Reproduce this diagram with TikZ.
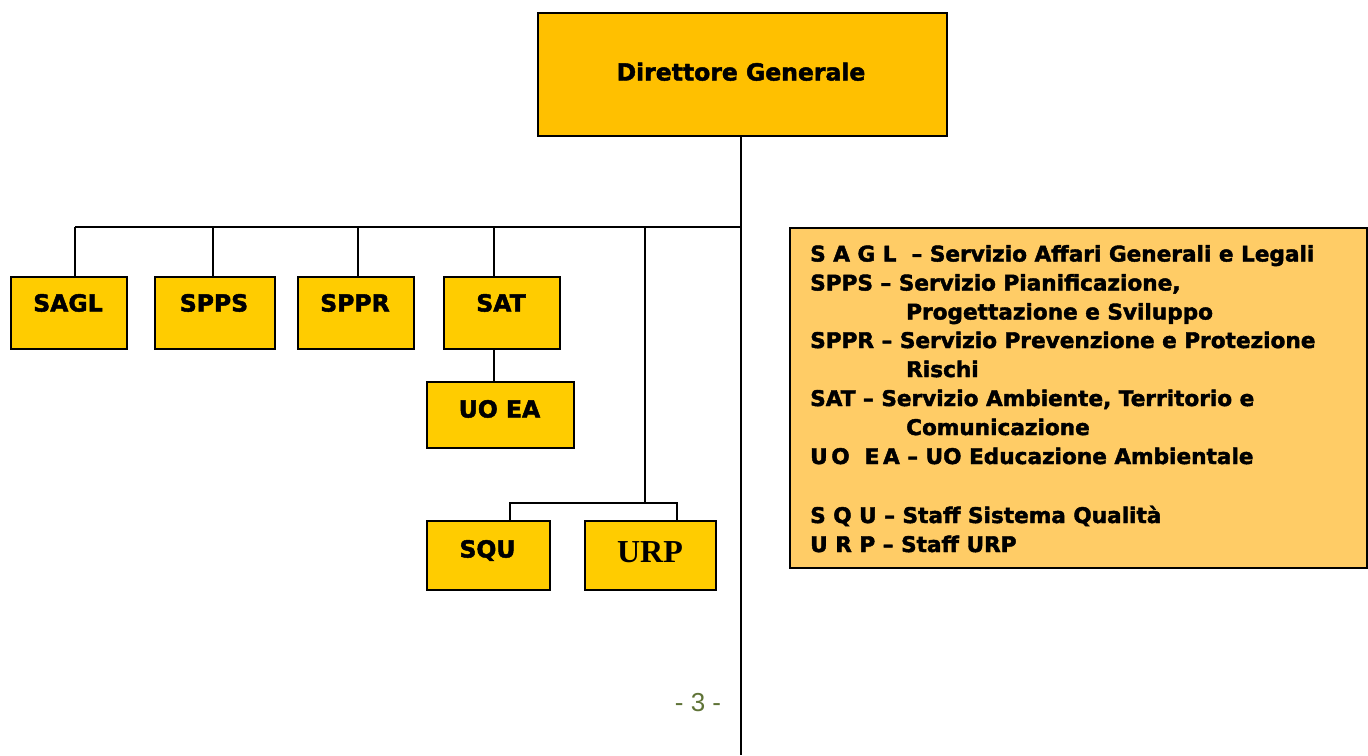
\documentclass[tikz,border=0pt]{standalone}
\usepackage{fontspec}
\setmainfont{DejaVu Sans}[BoldFeatures={FakeBold=2}]
\newfontfamily\serifbold{Liberation Serif}
\newfontfamily\pagefont{Liberation Sans}
\usetikzlibrary{calc}

\definecolor{headfill}{RGB}{255,192,0}
\definecolor{unitfill}{RGB}{255,204,0}
\definecolor{keyfill}{RGB}{255,204,102}
\definecolor{pagenum}{RGB}{95,115,55}

\begin{document}
\begin{tikzpicture}[x=1pt,y=-1pt,
  box/.style={draw=black, line width=1.8pt, fill=unitfill, anchor=north west, inner sep=0pt},
  link/.style={draw=black, line width=1.6pt},
  lbl/.style={anchor=base, inner sep=0pt, font=\fontsize{23.5}{28}\selectfont\bfseries},
  keyline/.style={anchor=base west, inner sep=0pt, font=\fontsize{21.6}{25}\selectfont\bfseries}]
\useasboundingbox (0,0) rectangle (1368,755);

% top box
\node[box, fill=headfill, minimum width=409pt, minimum height=123pt] (dg) at (537,12) {};
\node[lbl] (dgtext) at (741,80.5) {Direttore Generale};

% services
\node[box, minimum width=116pt, minimum height=72pt] (sagl) at (10,276) {};
\node[box, minimum width=120pt, minimum height=72pt] (spps) at (154,276) {};
\node[box, minimum width=116pt, minimum height=72pt] (sppr) at (297,276) {};
\node[box, minimum width=116pt, minimum height=72pt] (sat) at (443,276) {};
\node[box, minimum width=147pt, minimum height=66pt] (uoea) at (426,381) {};
\node[box, minimum width=123pt, minimum height=69pt] (squ) at (426,520) {};
\node[box, minimum width=131pt, minimum height=69pt] (urp) at (584,520) {};

\node[lbl] (sagltext) at (68,311.5) {SAGL};
\node[lbl] (sppstext) at (214,311.5) {SPPS};
\node[lbl] (spprtext) at (355,311.5) {SPPR};
\node[lbl] (sattext) at (501,311.5) {SAT};
\node[lbl] (uoeatext) at (499.5,417.5) {UO EA};
\node[lbl] (squtext) at (487.5,557.5) {SQU};
\node[anchor=base, inner sep=0pt, font=\fontsize{32}{36}\serifbold\bfseries] (urptext) at (650,562) {URP};

% connectors
\coordinate (bus) at (741,227);
\coordinate (tail) at (741,755);
\coordinate (d1) at (75,227);
\coordinate (d2) at (213,227);
\coordinate (d3) at (358,227);
\coordinate (d4) at (494,227);
\coordinate (s0) at (645,227);
\coordinate (s1) at (645,503);
\coordinate (sq) at (510,503);
\coordinate (ur) at (677,503);

\draw[link] (tail |- dg.south) -- (tail);
\draw[link] (d1) -- (bus);
\draw[link] (d1) -- (d1 |- sagl.north);
\draw[link] (d2) -- (d2 |- spps.north);
\draw[link] (d3) -- (d3 |- sppr.north);
\draw[link] (d4) -- (d4 |- sat.north);
\draw[link] (d4 |- sat.south) -- (d4 |- uoea.north);
\draw[link] (s0) -- (s1);
\draw[link] (sq |- squ.north) -- (sq) -- (ur) -- (ur |- urp.north);

% key
\node[draw=black, line width=1.8pt, fill=keyfill, anchor=north west, inner sep=0pt,
      minimum width=577pt, minimum height=340pt] (key) at (789,227) {};
\node[keyline] (k1) at (810,261.5) {S A G L\ \ – Servizio Affari Generali e Legali};
\node[keyline] (k2) at (810,290.5) {SPPS – Servizio Pianificazione,};
\node[keyline] (k3) at (906,319.5) {Progettazione e Sviluppo};
\node[keyline] (k4) at (810,348) {SPPR – Servizio Prevenzione e Protezione};
\node[keyline] (k5) at (906,377) {Rischi};
\node[keyline] (k6) at (810,406) {SAT – Servizio Ambiente, Territorio e};
\node[keyline] (k7) at (906,435) {Comunicazione};
\node[keyline] (k8) at (810,464) {U\,O\ \ E\,A – UO Educazione Ambientale};
\node[keyline] (k9) at (810,523) {S Q U – Staff Sistema Qualità};
\node[keyline] (k10) at (810,552) {U R P – Staff URP};

% page number
\node[anchor=base, inner sep=0pt, text=pagenum, font=\fontsize{26}{30}\pagefont] (page) at (698,711) {- 3 -};
\end{tikzpicture}
\end{document}
